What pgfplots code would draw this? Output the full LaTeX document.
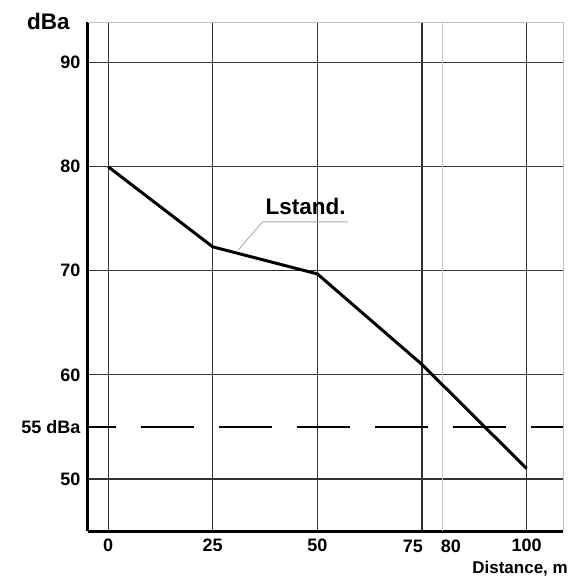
\documentclass[border=0pt]{standalone}
\usepackage{pgfplots}
\pgfplotsset{compat=1.18}
\usetikzlibrary{calc}
\usepackage{fontspec}
\setmainfont{Liberation Sans}

\begin{document}
\begin{tikzpicture}[x=1pt,y=1pt]
\path[use as bounding box] (0,0) rectangle (574,-578);
\begin{axis}[
    at={(88pt,-531pt)}, anchor=south west,
    scale only axis,
    width=475pt, height=509pt,
    xmin=-4.8, xmax=108.7,
    ymin=45, ymax=93.9,
    axis lines=left,
    axis line style={-, line width=3pt, black},
    xtick={0,25,50,75,100},
    xticklabels={0,25,50,,100},
    ytick={50,60,70,80,90},
    extra x ticks={80},
    extra x tick labels={},
    extra x tick style={grid style={black!20, line width=1pt}},
    extra y ticks={55},
    extra y tick labels={55 dBa},
    extra y tick style={grid=none},
    major tick length=0pt,
    grid=major,
    grid style={black!80, line width=1.1pt},
    tick label style={font=\bfseries\fontsize{18}{20}\selectfont},
    /pgf/number format/assume math mode=true,
    xticklabel style={yshift=-4pt},
    yticklabel style={xshift=-4pt},
    clip=false,
]
% light frame on top and right
\draw[black!25, line width=1pt] (axis cs:-4.8,93.9) -- (axis cs:108.7,93.9) -- (axis cs:108.7,45);
% 55 dBa limit
\addplot[black, line width=1.8pt, dash pattern=on 53pt off 25pt, dash phase=25pt]
    coordinates {(-4.8,55) (108.7,55)};
% Lstand. curve
\addplot[black, line width=3pt, line join=round] coordinates {
    (0,80)
    (25,72.3)
    (50,69.7)
    (75,61.0)
    (100,51.0)
};
% leader line and label
\draw[black!35, line width=0.8pt] (axis cs:31.1,72.0) -- (axis cs:36.9,74.7) -- (axis cs:57.3,74.7);
\node[anchor=south west, inner sep=0pt, font=\bfseries\fontsize{22.5}{26}\selectfont]
    at (axis cs:37.6,75.4) {Lstand.};
% the crowded labels at 75 and 80
\node[anchor=north, inner sep=0pt, font=\bfseries\fontsize{18}{20}\selectfont]
    at ($(axis cs:72.8,45)+(0pt,-8.5pt)$) {75};
\node[anchor=north, inner sep=0pt, font=\bfseries\fontsize{18}{20}\selectfont]
    at ($(axis cs:81.9,45)+(0pt,-8.5pt)$) {80};
\end{axis}
\node[anchor=south west, inner sep=0pt, font=\bfseries\fontsize{22.5}{26}\selectfont] at (27,-30) {dBa};
\node[anchor=base east, inner sep=0pt, font=\bfseries\fontsize{17}{20}\selectfont] at (568,-573) {Distance, m};
\end{tikzpicture}
\end{document}
